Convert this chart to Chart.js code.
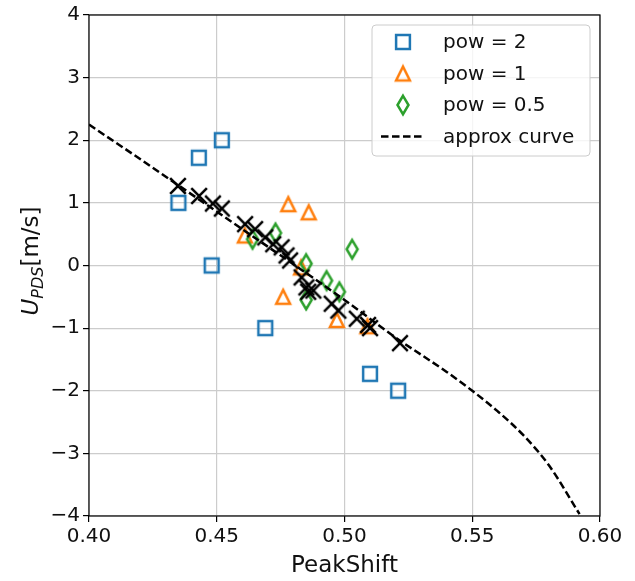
<!DOCTYPE html>
<html><head><meta charset="utf-8">
<script src="https://cdn.jsdelivr.net/npm/chart.js@4/dist/chart.umd.min.js"></script>
<style>html,body{margin:0;padding:0;background:#fff;}#wrap{width:635px;height:581px;position:relative;}</style>
</head><body><div id="wrap"><canvas id="c" width="635" height="581"></canvas></div>
<script>
// ---- data ----
const xTickLabels = [0.40, 0.45, 0.50, 0.55, 0.60];
const yTickLabels = [-4, -3, -2, -1, 0, 1, 2, 3, 4];
const seriesNames = ['pow = 2', 'pow = 1', 'pow = 0.5', 'approx curve'];

const pow2PeakShift = [0.435, 0.443, 0.452, 0.448, 0.469, 0.510, 0.521];
const pow2U         = [1.00, 1.72, 2.00, 0.00, -1.00, -1.73, -2.00];

const pow1PeakShift = [0.478, 0.486, 0.461, 0.483, 0.476, 0.497, 0.509];
const pow1U         = [0.98, 0.85, 0.48, -0.03, -0.50, -0.87, -0.97];

const pow05PeakShift = [0.464, 0.473, 0.485, 0.485, 0.493, 0.498, 0.503];
const pow05U         = [0.42, 0.52, 0.03, -0.55, -0.24, -0.42, 0.26];

const approxPeakShift = [0.4348, 0.4431, 0.4485, 0.4520, 0.4611, 0.4650, 0.4690, 0.4721, 0.4754, 0.4773, 0.4787, 0.4832, 0.4851, 0.4858, 0.4878, 0.4950, 0.4976, 0.5048, 0.5092, 0.5100, 0.5217];
const approxU         = [1.27, 1.11, 0.99, 0.91, 0.66, 0.58, 0.45, 0.34, 0.29, 0.16, 0.08, -0.19, -0.35, -0.42, -0.40, -0.61, -0.72, -0.85, -0.95, -1.00, -1.24];

const curvePeakShift = [0.400, 0.420, 0.440, 0.460, 0.480, 0.500, 0.520, 0.540, 0.550, 0.560, 0.570, 0.580, 0.592];
const curveU         = [2.25, 1.70, 1.14, 0.58, 0.02, -0.55, -1.15, -1.70, -2.00, -2.33, -2.71, -3.19, -3.97];

// ---- styles ----
const FONT = "'DejaVu Sans', 'Liberation Sans', sans-serif";
const TXT = '#111111';
const C_BLUE = '#1f77b4', C_ORANGE = '#ff7f0e', C_GREEN = '#2ca02c';
const DASH = [7.5, 3.5];

function marker(kind, color) {
  const s = 28, c = document.createElement('canvas');
  c.width = s; c.height = s;
  const g = c.getContext('2d');
  g.strokeStyle = color; g.lineWidth = 2.5; g.lineJoin = 'miter';
  const m = s / 2;
  g.beginPath();
  if (kind === 'square') {
    g.rect(m - 6.9, m - 6.9, 13.8, 13.8);
  } else if (kind === 'triangle') {
    g.moveTo(m, m - 6.9); g.lineTo(m + 6.9, m + 6.9); g.lineTo(m - 6.9, m + 6.9); g.closePath();
  } else if (kind === 'diamond') {
    g.moveTo(m, m - 9.2); g.lineTo(m + 5.5, m); g.lineTo(m, m + 9.2); g.lineTo(m - 5.5, m); g.closePath();
  } else if (kind === 'x') {
    g.lineWidth = 2.5;
    g.moveTo(m - 7.8, m - 7.8); g.lineTo(m + 7.8, m + 7.8);
    g.moveTo(m + 7.8, m - 7.8); g.lineTo(m - 7.8, m + 7.8);
  }
  g.stroke();
  return c;
}
const mkSquare = marker('square', C_BLUE);
const mkTri = marker('triangle', C_ORANGE);
const mkDia = marker('diamond', C_GREEN);
const mkX = marker('x', '#000');

const pts = (xs, ys) => xs.map((x, i) => ({x: x, y: ys[i]}));
const fmtY = v => (v < 0 ? '\u2212' + Math.abs(v) : String(v));

const decor = {
  id: 'decor',
  afterDraw(chart) {
    const ctx = chart.ctx, a = chart.chartArea;
    ctx.save();
    ctx.strokeStyle = '#000'; ctx.lineWidth = 1.2;
    ctx.strokeRect(a.left, a.top, a.right - a.left, a.bottom - a.top);
    ctx.fillStyle = TXT;
    ctx.font = '23px ' + FONT;
    ctx.textAlign = 'center'; ctx.textBaseline = 'middle';
    ctx.fillText('PeakShift', (a.left + a.right) / 2, 566);
    ctx.save();
    ctx.translate(30, 261);
    ctx.rotate(-Math.PI / 2);
    ctx.textAlign = 'left'; ctx.textBaseline = 'alphabetic';
    const fU = 'italic 23px ' + FONT, fS = 'italic 16px ' + FONT, fM = '23px ' + FONT;
    ctx.font = fU; const wU = ctx.measureText('U').width;
    ctx.font = fS; const wS = ctx.measureText('PDS').width;
    ctx.font = fM; const wM = ctx.measureText('[m/s]').width;
    let x0 = -(wU + wS + wM) / 2;
    ctx.font = fU; ctx.fillText('U', x0, 8); x0 += wU;
    ctx.font = fS; ctx.fillText('PDS', x0, 13); x0 += wS;
    ctx.font = fM; ctx.fillText('[m/s]', x0, 8);
    ctx.restore();
    const L = 372, T = 25, R = 590, B = 156, r = 4;
    ctx.beginPath();
    ctx.moveTo(L + r, T); ctx.lineTo(R - r, T); ctx.quadraticCurveTo(R, T, R, T + r);
    ctx.lineTo(R, B - r); ctx.quadraticCurveTo(R, B, R - r, B);
    ctx.lineTo(L + r, B); ctx.quadraticCurveTo(L, B, L, B - r);
    ctx.lineTo(L, T + r); ctx.quadraticCurveTo(L, T, L + r, T); ctx.closePath();
    ctx.fillStyle = 'rgba(255,255,255,0.8)'; ctx.fill();
    ctx.strokeStyle = '#cccccc'; ctx.lineWidth = 1; ctx.stroke();
    const rows = [42, 73.5, 105, 136.5];
    const icons = [mkSquare, mkTri, mkDia];
    for (let i = 0; i < 3; i++) ctx.drawImage(icons[i], 403 - 14, rows[i] - 14);
    ctx.beginPath();
    ctx.setLineDash(DASH); ctx.strokeStyle = '#000'; ctx.lineWidth = 2.5;
    ctx.moveTo(381, rows[3]); ctx.lineTo(424, rows[3]); ctx.stroke();
    ctx.setLineDash([]);
    ctx.fillStyle = TXT; ctx.font = '20px ' + FONT;
    ctx.textAlign = 'left'; ctx.textBaseline = 'middle';
    for (let i = 0; i < 4; i++) ctx.fillText(seriesNames[i], 443, rows[i] + 1);
    ctx.restore();
  }
};

new Chart(document.getElementById('c'), {
  type: 'scatter',
  data: {
    datasets: [
      { label: 'approx', data: pts(approxPeakShift, approxU), pointStyle: mkX, pointRadius: 8, order: 0 },
      { label: seriesNames[3], type: 'line', data: pts(curvePeakShift, curveU), borderColor: '#000', borderWidth: 2.5,
        borderDash: DASH, pointRadius: 0, fill: false, cubicInterpolationMode: 'monotone', order: 1 },
      { label: seriesNames[2], data: pts(pow05PeakShift, pow05U), pointStyle: mkDia, pointRadius: 8, order: 2 },
      { label: seriesNames[1], data: pts(pow1PeakShift, pow1U), pointStyle: mkTri, pointRadius: 8, order: 3 },
      { label: seriesNames[0], data: pts(pow2PeakShift, pow2U), pointStyle: mkSquare, pointRadius: 8, order: 4 }
    ]
  },
  options: {
    responsive: false, animation: false, devicePixelRatio: 1,
    layout: { padding: { top: 13, right: 35, left: 0, bottom: 0 } },
    plugins: { legend: { display: false }, tooltip: { enabled: false } },
    scales: {
      x: {
        type: 'linear', min: 0.4, max: 0.6,
        afterBuildTicks: s => { s.ticks = xTickLabels.map(v => ({ value: v })); },
        afterFit: s => { s.height = 65; },
        ticks: { callback: v => Number(v).toFixed(2), color: TXT, font: { family: FONT, size: 20 }, padding: 3, maxRotation: 0 },
        grid: { color: '#cccccc', lineWidth: 1.2, tickColor: '#000', tickLength: 6, tickWidth: 1.2 },
        border: { display: false }
      },
      y: {
        type: 'linear', min: -4, max: 4,
        afterBuildTicks: s => { s.ticks = yTickLabels.map(v => ({ value: v })); },
        afterFit: s => { s.width = 89; },
        ticks: { callback: v => fmtY(v), color: TXT, font: { family: FONT, size: 20 }, padding: 3 },
        grid: { color: '#cccccc', lineWidth: 1.2, tickColor: '#000', tickLength: 6, tickWidth: 1.2 },
        border: { display: false }
      }
    }
  },
  plugins: [decor]
});
</script></body></html>
